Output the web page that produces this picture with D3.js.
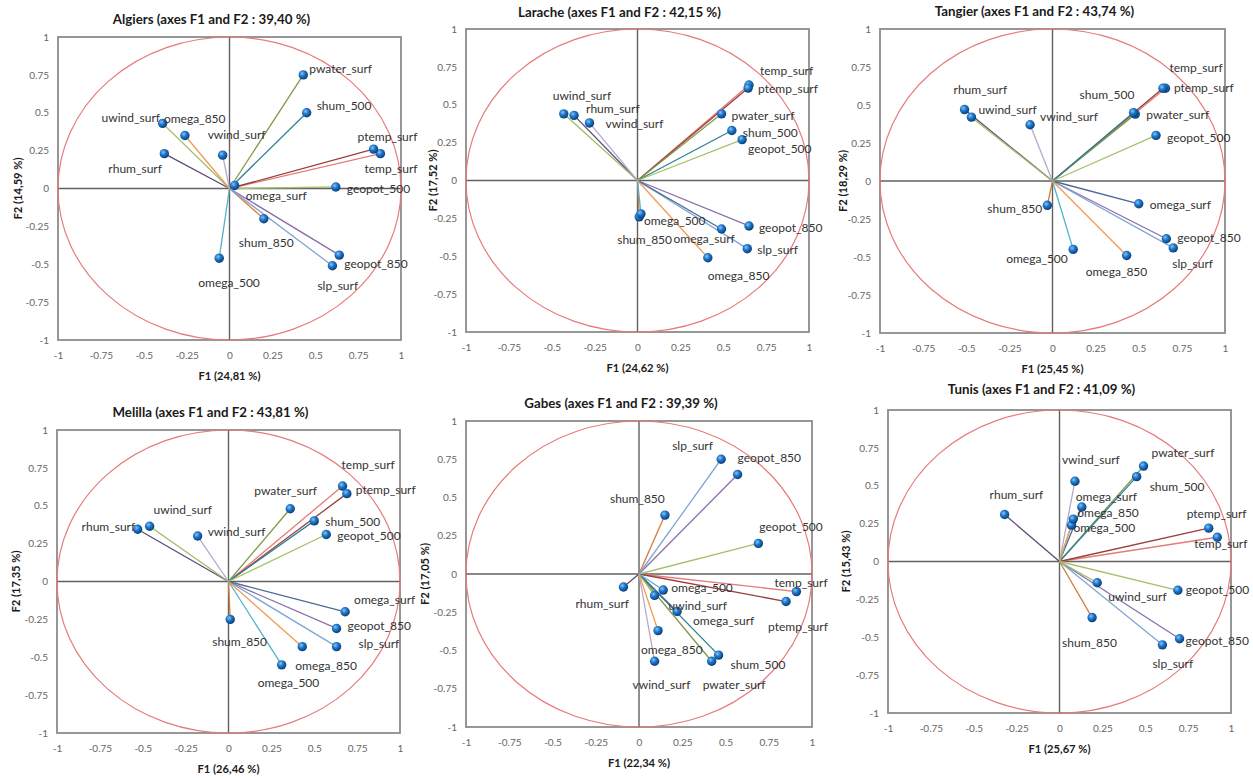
<!DOCTYPE html>
<html>
<head>
<meta charset="utf-8">
<script src="https://cdn.jsdelivr.net/npm/d3@7"></script>
<style>
  body { margin: 0; background: #fff; }
  svg { display: block; }
</style>
</head>
<body>
<div id="chart"></div>
<script>
// ---- data ----
const variables = ['temp_surf', 'ptemp_surf', 'pwater_surf', 'shum_500', 'shum_850',
  'geopot_500', 'geopot_850', 'slp_surf', 'rhum_surf', 'uwind_surf', 'vwind_surf',
  'omega_surf', 'omega_500', 'omega_850']

const cities = ['Algiers', 'Larache', 'Tangier', 'Melilla', 'Gabes', 'Tunis']
const totalPct = ['39,40', '42,15', '43,74', '43,81', '39,39', '41,09']
const f1Pct = ['24,81', '24,62', '25,45', '26,46', '22,34', '25,67']
const f2Pct = ['14,59', '17,52', '18,29', '17,35', '17,05', '15,43']
const ticks = [-1, -0.75, -0.5, -0.25, 0, 0.25, 0.5, 0.75, 1]

// coordinates on F1 / F2, same order as variables
const algiersF1 = [0.88, 0.84, 0.43, 0.45, 0.20, 0.62, 0.64, 0.60, -0.38, -0.39, -0.04, 0.03, -0.06, -0.26]
const algiersF2 = [0.23, 0.26, 0.75, 0.50, -0.20, 0.01, -0.44, -0.51, 0.23, 0.43, 0.22, 0.02, -0.46, 0.35]
const laracheF1 = [0.65, 0.645, 0.49, 0.55, 0.01, 0.61, 0.65, 0.64, -0.37, -0.43, -0.28, 0.49, 0.02, 0.41]
const laracheF2 = [0.63, 0.61, 0.44, 0.33, -0.24, 0.27, -0.30, -0.45, 0.43, 0.44, 0.38, -0.32, -0.22, -0.51]
const tangierF1 = [0.655, 0.64, 0.48, 0.47, -0.03, 0.60, 0.66, 0.70, -0.51, -0.47, -0.13, 0.50, 0.12, 0.43]
const tangierF2 = [0.61, 0.61, 0.44, 0.45, -0.16, 0.30, -0.38, -0.44, 0.47, 0.42, 0.37, -0.15, -0.45, -0.49]
const melillaF1 = [0.665, 0.69, 0.36, 0.50, 0.01, 0.57, 0.63, 0.63, -0.53, -0.46, -0.18, 0.68, 0.31, 0.43]
const melillaF2 = [0.63, 0.58, 0.48, 0.40, -0.25, 0.31, -0.31, -0.43, 0.345, 0.365, 0.30, -0.20, -0.55, -0.43]
const gabesF1 = [0.91, 0.85, 0.42, 0.46, 0.15, 0.69, 0.57, 0.475, -0.09, 0.09, 0.09, 0.22, 0.14, 0.11]
const gabesF2 = [-0.115, -0.18, -0.57, -0.53, 0.385, 0.20, 0.65, 0.75, -0.085, -0.14, -0.57, -0.245, -0.105, -0.37]
const tunisF1 = [0.92, 0.87, 0.49, 0.45, 0.19, 0.69, 0.70, 0.60, -0.32, 0.22, 0.09, 0.13, 0.07, 0.08]
const tunisF2 = [0.16, 0.22, 0.63, 0.56, -0.37, -0.19, -0.51, -0.55, 0.31, -0.14, 0.53, 0.36, 0.24, 0.28]

const f1 = [algiersF1, laracheF1, tangierF1, melillaF1, gabesF1, tunisF1]
const f2 = [algiersF2, laracheF2, tangierF2, melillaF2, gabesF2, tunisF2]

// ---- styling / layout ----
const width = 1253
const height = 780
const font = 'Lato, "Open Sans", sans-serif'

// one colour per variable (Excel-like palette)
const varColor = {
  temp_surf: '#e47c7a', ptemp_surf: '#98403e', pwater_surf: '#7f9a48', shum_500: '#2f8197',
  shum_850: '#d9793a', geopot_500: '#a5c26a', geopot_850: '#8a70aa', slp_surf: '#7fa6d4',
  rhum_surf: '#5c4a78', uwind_surf: '#9cbf63', vwind_surf: '#b8a7cc', omega_surf: '#4a6a92',
  omega_500: '#4fb3cc', omega_850: '#f39a52'
}

// plot frame of each panel
const frames = [
  {x0: 58, x1: 401, y0: 37, y1: 340, ty: 19, yt: 18},
  {x0: 466, x1: 809, y0: 29, y1: 332, ty: 12, yt: 433},
  {x0: 880, x1: 1225, y0: 29, y1: 333, ty: 11, yt: 843},
  {x0: 57, x1: 400, y0: 430, y1: 733, ty: 412, yt: 16},
  {x0: 466, x1: 812, y0: 421, y1: 727, ty: 403, yt: 425},
  {x0: 888, x1: 1231, y0: 410, y1: 713, ty: 389, yt: 846}
]

// label offsets in px from the point (text start, vertical middle)
const labelOffsets = [
  [[-16, 15], [-16, -12], [6, -6], [10, -7], [-25, 24], [11, 2], [5, 9], [-15, 20], [-56, 15], [-61, -6], [-15, -20], [11, 10], [-21, 25], [-21, -17]],
  [[11, -14], [10, 1], [10, 2], [11, 2], [-22, 23], [6, 9], [10, 2], [10, 1], [12, -7], [-11, -18], [16, 1], [-48, 10], [3, 7], [0, 18]],
  [[4, -20], [11, 0], [11, 1], [-54, -18], [-60, 3], [11, 2], [11, -1], [-1, 16], [-11, -20], [7, -7], [10, -8], [11, 1], [-67, 9], [-41, 16]],
  [[-1, -21], [9, -4], [-36, -18], [11, 1], [-18, 22], [11, 1], [11, -3], [22, -3], [-56, -2], [4, -16], [10, -4], [9, -12], [-24, 18], [-7, 19]],
  [[-22, -9], [-18, 25], [-9, 24], [12, 10], [-55, -16], [1, -17], [0, -17], [-49, -13], [-48, 17], [14, 10], [-22, 24], [16, 9], [8, -2], [-17, 19]],
  [[-23, 7], [-22, -14], [8, -13], [13, 10], [-30, 25], [8, 0], [6, 2], [-10, 19], [-15, -20], [11, 14], [-13, -21], [-6, -10], [2, 3], [4, -6]]
]

const svg = d3.select('#chart')
  .append('svg')
  .attr('width', width)
  .attr('height', height)
  .style('font-family', font)

// sphere marker
const grad = svg.append('defs').append('radialGradient')
  .attr('id', 'ball')
  .attr('cx', '38%').attr('cy', '35%').attr('r', '65%')
grad.append('stop').attr('offset', '0%').attr('stop-color', '#8cc4f2')
grad.append('stop').attr('offset', '45%').attr('stop-color', '#1f78cc')
grad.append('stop').attr('offset', '100%').attr('stop-color', '#0a3f78')

function drawPanel (i) {
  const fr = frames[i]
  const xs = d3.scaleLinear().domain([-1, 1]).range([fr.x0, fr.x1])
  const ys = d3.scaleLinear().domain([-1, 1]).range([fr.y1, fr.y0])
  const g = svg.append('g')

  // frame
  g.append('rect')
    .attr('x', fr.x0).attr('y', fr.y0)
    .attr('width', fr.x1 - fr.x0).attr('height', fr.y1 - fr.y0)
    .attr('fill', 'none')
    .attr('stroke', '#8c8c8c')
    .attr('stroke-width', 1.8)

  // zero lines
  g.append('line')
    .attr('x1', xs(-1)).attr('x2', xs(1)).attr('y1', ys(0)).attr('y2', ys(0))
    .attr('stroke', '#616161').attr('stroke-width', 1.4)
  g.append('line')
    .attr('x1', xs(0)).attr('x2', xs(0)).attr('y1', ys(-1)).attr('y2', ys(1))
    .attr('stroke', '#616161').attr('stroke-width', 1.4)

  // correlation circle
  g.append('ellipse')
    .attr('cx', xs(0)).attr('cy', ys(0))
    .attr('rx', (xs(1) - xs(-1)) / 2).attr('ry', (ys(-1) - ys(1)) / 2)
    .attr('fill', 'none')
    .attr('stroke', '#e87a7a')
    .attr('stroke-width', 1.2)

  // axes
  const xAxis = g.append('g')
    .attr('transform', `translate(0,${fr.y1})`)
    .call(d3.axisBottom(xs).tickValues(ticks).tickSize(0).tickPadding(12).tickFormat(d => String(d)))
  const yAxis = g.append('g')
    .attr('transform', `translate(${fr.x0},0)`)
    .call(d3.axisLeft(ys).tickValues(ticks).tickSize(0).tickPadding(9).tickFormat(d => String(d)))
  xAxis.select('.domain').remove()
  yAxis.select('.domain').remove()
  g.selectAll('.tick text')
    .attr('fill', '#666')
    .style('font-size', '10px')
    .style('font-family', font)

  const data = variables.map((v, k) => ({name: v, x: f1[i][k], y: f2[i][k], off: labelOffsets[i][k]}))

  // vectors
  g.selectAll('.vec')
    .data(data)
    .enter()
    .append('line')
    .attr('class', 'vec')
    .attr('x1', xs(0)).attr('y1', ys(0))
    .attr('x2', d => xs(d.x)).attr('y2', d => ys(d.y))
    .attr('stroke', d => varColor[d.name])
    .attr('stroke-width', 1.3)

  // points
  g.selectAll('.pt')
    .data(data)
    .enter()
    .append('circle')
    .attr('class', 'pt')
    .attr('cx', d => xs(d.x)).attr('cy', d => ys(d.y))
    .attr('r', 4.7)
    .attr('fill', 'url(#ball)')

  // labels
  g.selectAll('.lbl')
    .data(data)
    .enter()
    .append('text')
    .attr('class', 'lbl')
    .attr('x', d => xs(d.x) + d.off[0])
    .attr('y', d => ys(d.y) + d.off[1])
    .attr('dy', '0.35em')
    .attr('fill', '#333')
    .style('font-size', '12px')
    .text(d => d.name)

  // titles
  const cx = (fr.x0 + fr.x1) / 2
  g.append('text')
    .attr('x', cx - 18).attr('y', fr.ty).attr('dy', '0.35em')
    .attr('text-anchor', 'middle')
    .attr('fill', '#1a1a1a')
    .style('font-size', '13.3px').style('font-weight', 'bold')
    .text(`${cities[i]} (axes F1 and F2 : ${totalPct[i]} %)`)
  g.append('text')
    .attr('x', cx).attr('y', fr.y1 + 36.5).attr('dy', '0.35em')
    .attr('text-anchor', 'middle')
    .attr('fill', '#1a1a1a')
    .style('font-size', '11.2px').style('font-weight', 'bold')
    .text(`F1 (${f1Pct[i]} %)`)
  g.append('text')
    .attr('transform', `translate(${fr.yt},${(fr.y0 + fr.y1) / 2}) rotate(-90)`)
    .attr('dy', '0.35em')
    .attr('text-anchor', 'middle')
    .attr('fill', '#1a1a1a')
    .style('font-size', '11.2px').style('font-weight', 'bold')
    .text(`F2 (${f2Pct[i]} %)`)
}

cities.forEach((c, i) => drawPanel(i))
</script>
</body>
</html>
